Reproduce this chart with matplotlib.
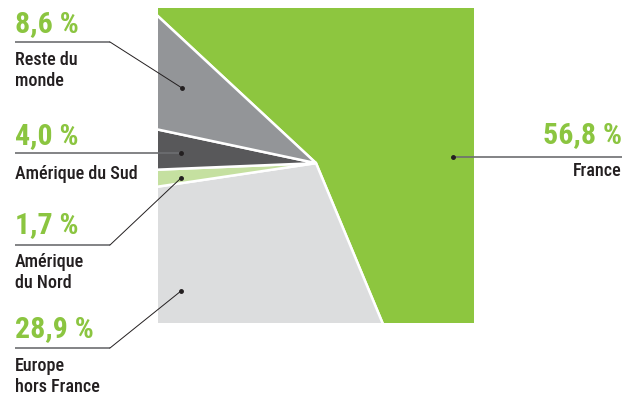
import matplotlib
matplotlib.use('Agg')
import matplotlib.pyplot as plt

plt.rcParams['font.family'] = ['Roboto Condensed', 'DejaVu Sans']
plt.rcParams['font.stretch'] = 'condensed'

# data (France first, then clockwise)
regions = ['France', 'Europe\nhors France', 'Amérique\ndu Nord', 'Amérique du Sud', 'Reste du\nmonde']
shares = [56.8, 28.9, 1.7, 4.0, 8.6]
pct_labels = ['56,8 %', '28,9 %', '1,7 %', '4,0 %', '8,6 %']
colors = ['#8DC63F', '#DCDDDE', '#C5E0A0', '#58585A', '#939598']

GREEN = '#8BC540'
TXT = '#231F20'
W, H = 633, 397

fig = plt.figure(figsize=(W / 100, H / 100), dpi=100)
fig.patch.set_facecolor('white')

# square-clipped pie
ax = fig.add_axes([158 / W, (H - 323) / H, 316 / W, 315 / H])
ax.pie(shares, colors=colors, startangle=137, counterclock=False,
       radius=3, center=(0, 0.015), frame=False,
       wedgeprops=dict(edgecolor='white', linewidth=1.8, clip_on=True))
ax.set_xlim(-1, 1)
ax.set_ylim(-1, 1)
ax.set_aspect('auto')
ax.axis('off')

# overlay in pixel coords for labels and leaders
ov = fig.add_axes([0, 0, 1, 1], facecolor='none')
ov.set_xlim(0, W)
ov.set_ylim(H, 0)
ov.axis('off')

# (text x, pct baseline, underline y, bend x, dot x, dot y, label baseline, align)
layout = {
    'Reste du\nmonde':      (15, 32, 42, 110, 182, 88, 65, 'left'),
    'Amérique du Sud':      (15, 144, 153, 181, 181, 153, 179, 'left'),
    'Amérique\ndu Nord':    (15, 233, 245, 110, 181, 178, 267, 'left'),
    'Europe\nhors France':  (15, 337, 348, 110, 181, 291, 371, 'left'),
    'France':               (622, 143, 157, 453, 453, 157, 176, 'right'),
}

for reg, pct in zip(regions, pct_labels):
    tx, pb, uy, bx, dx, dy, lb, ha = layout[reg]
    ov.text(tx, pb, pct, color=GREEN, fontsize=21.5, fontweight='bold',
            ha=ha, va='baseline')
    lines = reg.split('\n')
    for k, ln in enumerate(lines):
        ov.text(tx, lb + 21 * k, ln, color=TXT, fontsize=13, fontweight='medium',
                ha=ha, va='baseline')
    if ha == 'left':
        ov.plot([tx, bx], [uy, uy], color='#6D6E71', lw=1.2, solid_capstyle='butt')
        if (bx, uy) != (dx, dy):
            ov.plot([bx, dx], [uy, dy], color=TXT, lw=0.7)
    else:
        ov.plot([dx, tx], [uy, uy], color='#6D6E71', lw=1.2, solid_capstyle='butt')
    ov.plot([dx], [dy], 'o', color=TXT, ms=2.5)

fig.savefig('out.png', dpi=100, facecolor='white')
